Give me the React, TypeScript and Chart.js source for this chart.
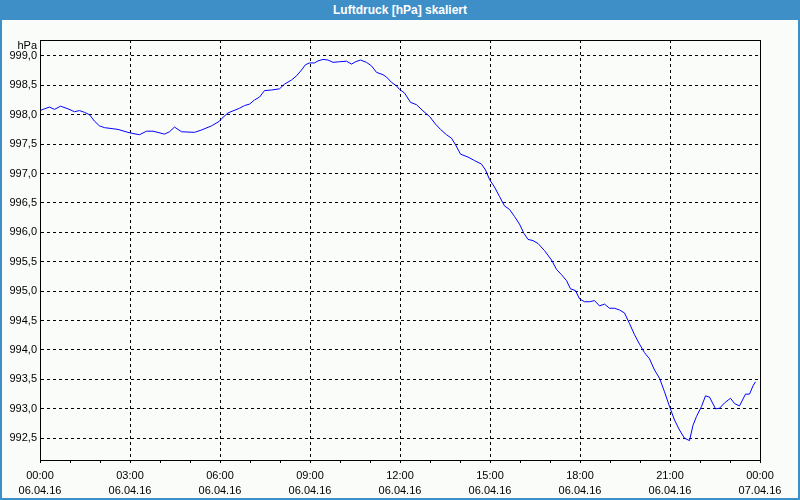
import React, { useEffect, useRef } from "react";
import { Chart, registerables } from "chart.js";

Chart.register(...registerables);

// time in minutes after 06.04.16 00:00
const times = [
  0, 9, 19, 29, 41, 56, 69, 79, 89, 99, 109, 119, 129, 156, 176, 186, 199, 213, 226, 249,
  259, 269, 283, 309, 323, 343, 359, 364, 376, 386, 399, 409, 419, 429, 439, 449, 463, 479,
  489, 503, 513, 523, 531, 539, 549, 556, 566, 576, 586, 599, 613, 623, 631, 641, 653, 663,
  673, 686, 693, 703, 713, 719, 729, 741, 753, 766, 779, 791, 801, 813, 823, 831, 841, 856,
  869, 883, 891, 899, 909, 919, 929, 939, 949, 959, 968, 976, 986, 996, 1009, 1023, 1033,
  1043, 1053, 1061, 1071, 1079, 1089, 1099, 1109, 1119, 1129, 1139, 1149, 1159, 1169, 1179,
  1189, 1199, 1209, 1219, 1229, 1239, 1249, 1259, 1269, 1279, 1289, 1299, 1306, 1313, 1323,
  1331, 1339, 1351, 1359, 1369, 1381, 1389, 1399, 1411, 1419, 1426, 1431,
];

const pressure = [
  998.07, 998.1, 998.13, 998.09, 998.145, 998.1, 998.05, 998.07, 998.04, 998.0, 997.89,
  997.81, 997.78, 997.75, 997.7, 997.68, 997.66, 997.72, 997.72, 997.67, 997.71, 997.79,
  997.71, 997.7, 997.74, 997.81, 997.89, 997.94, 998.03, 998.065, 998.11, 998.155, 998.18,
  998.25, 998.3, 998.41, 998.42, 998.44, 998.52, 998.59, 998.66, 998.76, 998.85, 998.88,
  998.88, 998.915, 998.94, 998.93, 998.89, 998.9, 998.91, 998.86, 998.9, 998.93, 998.89,
  998.83, 998.72, 998.68, 998.64, 998.55, 998.49, 998.43, 998.37, 998.21, 998.17, 998.065,
  997.97, 997.84, 997.75, 997.66, 997.6, 997.49, 997.33, 997.28, 997.22, 997.16, 997.06,
  996.9, 996.77, 996.61, 996.45, 996.39, 996.27, 996.14, 995.98, 995.88, 995.86, 995.81,
  995.69, 995.53, 995.37, 995.28, 995.18, 995.04, 995.01, 994.87, 994.82, 994.82, 994.84,
  994.75, 994.78, 994.71, 994.71, 994.68, 994.63, 994.45, 994.26, 994.1, 993.955, 993.85,
  993.66, 993.52, 993.29, 993.04, 992.81, 992.64, 992.5, 992.46, 992.72, 992.87, 993.04,
  993.22, 993.2, 993.0, 993.01, 993.1, 993.18, 993.09, 993.05, 993.25, 993.25, 993.39,
  993.46,
];

const yTickValues = [
  992.5, 993.0, 993.5, 994.0, 994.5, 995.0, 995.5, 996.0, 996.5, 997.0, 997.5, 998.0, 998.5,
  999.0,
];

const xTimeLabels = ["00:00", "03:00", "06:00", "09:00", "12:00", "15:00", "18:00", "21:00", "00:00"];
const xDateLabels = [
  "06.04.16", "06.04.16", "06.04.16", "06.04.16", "06.04.16", "06.04.16", "06.04.16", "06.04.16", "07.04.16",
];

const TITLE = "Luftdruck [hPa] skaliert";
const UNIT = "hPa";
const FONT = "'Liberation Sans', Arial, sans-serif";

export default function App() {
  const ref = useRef<HTMLCanvasElement | null>(null);

  useEffect(() => {
    document.body.style.margin = "0";
    const canvas = ref.current;
    if (!canvas) return;

    const framePlugin = {
      id: "frameAndUnit",
      afterDraw(chart: any) {
        const { ctx, chartArea } = chart;
        ctx.save();
        ctx.strokeStyle = "#000";
        ctx.lineWidth = 1;
        ctx.setLineDash([]);
        const l = Math.round(chartArea.left) + 0.5;
        const t = Math.round(chartArea.top) + 0.5;
        const r = Math.round(chartArea.right) + 0.5;
        const b = Math.round(chartArea.bottom) + 0.5;
        ctx.strokeRect(l, t, r - l, b - t);
        ctx.fillStyle = "#000";
        ctx.font = `11px ${FONT}`;
        ctx.textAlign = "right";
        ctx.textBaseline = "middle";
        ctx.fillText(UNIT, chartArea.left - 3, chartArea.top + 6);
        ctx.restore();
      },
    };

    const chart = new Chart(canvas, {
      type: "line",
      data: {
        datasets: [
          {
            data: times.map((t, i) => ({ x: t, y: pressure[i] })),
            borderColor: "#0000ff",
            borderWidth: 1,
            pointRadius: 0,
            tension: 0,
            fill: false,
          },
        ],
      },
      options: {
        animation: false,
        responsive: false,
        devicePixelRatio: 1,
        layout: { padding: { left: 0, top: 20, right: 38, bottom: 0 } },
        plugins: {
          legend: { display: false },
          tooltip: { enabled: false },
          title: { display: false },
        },
        scales: {
          x: {
            type: "linear",
            min: 0,
            max: 1440,
            afterFit: (scale: any) => {
              scale.height = 38;
            },
            ticks: {
              stepSize: 60,
              autoSkip: false,
              maxRotation: 0,
              minRotation: 0,
              padding: 6,
              color: "#000",
              font: { family: FONT, size: 11, lineHeight: 1.35 },
              callback: (v: any) => {
                const n = Number(v);
                if (n % 180 !== 0) return "";
                const i = n / 180;
                return [xTimeLabels[i], xDateLabels[i]];
              },
            },
            grid: {
              color: (ctx: any) =>
                ctx.tick && ctx.tick.value % 180 === 0 ? "#000" : "rgba(0,0,0,0)",
              tickColor: "#000",
              tickBorderDash: [1, 0],
              tickLength: 3,
              lineWidth: 1,
              drawTicks: true,
            },
            border: { display: true, color: "#000", width: 1, dash: [3, 3] },
          },
          y: {
            type: "linear",
            min: 992.13,
            max: 999.27,
            afterFit: (scale: any) => {
              scale.width = 38;
            },
            afterBuildTicks: (scale: any) => {
              scale.ticks = yTickValues.map((v) => ({ value: v }));
            },
            ticks: {
              padding: 3,
              color: "#000",
              font: { family: FONT, size: 11 },
              callback: (v: any) => Number(v).toFixed(1).replace(".", ","),
            },
            grid: {
              color: "#000",
              drawTicks: false,
              lineWidth: 1,
            },
            border: { display: true, color: "#000", width: 1, dash: [3, 3] },
          },
        },
      },
      plugins: [framePlugin],
    });

    return () => chart.destroy();
  }, []);

  return (
    <div
      style={{
        position: "fixed",
        left: 0,
        top: 0,
        width: 800,
        height: 500,
        background: "#3e8fc7",
      }}
    >
      <div
        style={{
          position: "absolute",
          left: 0,
          top: 0,
          width: 800,
          height: 20,
          lineHeight: "20px",
          textAlign: "center",
          color: "#ffffff",
          fontFamily: FONT,
          fontWeight: "bold",
          fontSize: 12,
        }}
      >
        {TITLE}
      </div>
      <div
        style={{
          position: "absolute",
          left: 2,
          top: 20,
          width: 796,
          height: 478,
          background: "#fafcfa",
        }}
      >
        <canvas ref={ref} width={796} height={478} style={{ display: "block" }} />
      </div>
    </div>
  );
}
